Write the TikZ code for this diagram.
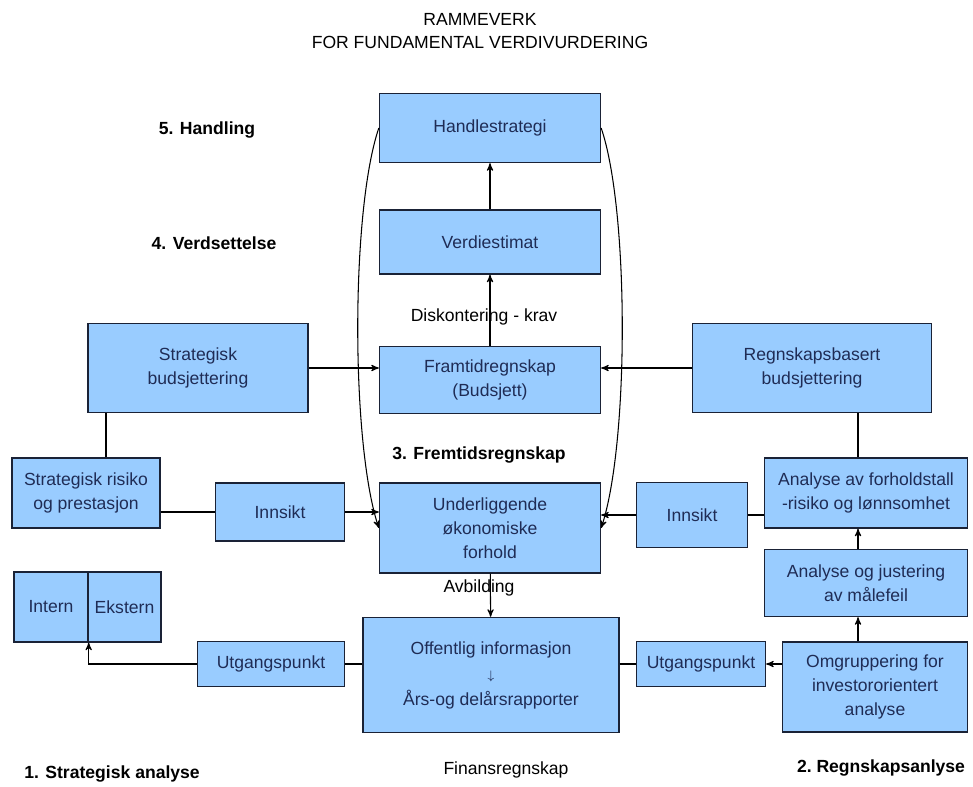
\documentclass[tikz,border=0pt]{standalone}
\usepackage{fontspec}
\setmainfont{Liberation Sans}
\usetikzlibrary{shapes,arrows,positioning,calc}

\definecolor{boxblue}{HTML}{99CCFF}
\definecolor{boxline}{HTML}{1A2236}
\definecolor{boxtext}{HTML}{1F2C55}

\begin{document}
\begin{tikzpicture}[x=0.02cm, y=-0.02cm, >=stealth', semithick,
    box/.style={draw=boxline, fill=boxblue, text=boxtext, align=center, inner sep=1pt, thick,
                font=\fontsize{10}{13.5}\selectfont},
    stage/.style={font=\bfseries\fontsize{10}{12}\selectfont},
    plain/.style={font=\fontsize{10}{13}\selectfont, align=center}]
        \useasboundingbox (0,0) rectangle (973,787);

        % tittel
        \node[plain] (title) at (480,31) {RAMMEVERK\\FOR FUNDAMENTAL VERDIVURDERING};

        % midtre kolonne
        \node[box, minimum width=4.42cm, minimum height=1.38cm] (Handle) at (490,128) {Handlestrategi};
        \node[box, minimum width=4.42cm, minimum height=1.28cm] (Verdi) at (490,242) {Verdiestimat};
        \node[box, minimum width=4.42cm, minimum height=1.34cm] (Framtid) at (490,380) {Framtidregnskap\\(Budsjett)};
        \node[box, minimum width=4.42cm, minimum height=1.80cm] (Underligg) at (490,528) {Underliggende\\økonomiske\\forhold};
        \node[box, minimum width=5.12cm, minimum height=2.30cm] (Offentlig) at (491,675)
            {Offentlig informasjon\\[1pt]{\scriptsize$\downarrow$}\\[1pt]Års-og delårsrapporter};

        % venstre side
        \node[box, minimum width=4.40cm, minimum height=1.78cm] (StratBud) at (198,368) {Strategisk\\budsjettering};
        \node[box, minimum width=2.96cm, minimum height=1.40cm] (StratRisk) at (86,493) {Strategisk risiko\\og prestasjon};
        \node[box, minimum width=2.58cm, minimum height=1.16cm] (InnsiktV) at (280,512) {Innsikt};
        \node[box, minimum width=1.48cm, minimum height=1.40cm] (Intern) at (51,607) {Intern};
        \node[box, minimum width=1.46cm, minimum height=1.40cm] (Ekstern) at (124.5,607) {Ekstern};
        \node[box, minimum width=2.94cm, minimum height=0.90cm] (UtgangV) at (271,664) {Utgangspunkt};

        % høyre side
        \node[box, minimum width=4.78cm, minimum height=1.78cm] (RegnBud) at (812,368) {Regnskapsbasert\\budsjettering};
        \node[box, minimum width=4.06cm, minimum height=1.40cm] (Forhold) at (866,493) {Analyse av forholdstall\\-risiko og lønnsomhet};
        \node[box, minimum width=2.22cm, minimum height=1.30cm] (InnsiktH) at (692,515) {Innsikt};
        \node[box, minimum width=4.06cm, minimum height=1.34cm] (Justering) at (866,583) {Analyse og justering\\av målefeil};
        \node[box, minimum width=3.70cm, minimum height=1.80cm] (Omgrupp) at (875,687) {Omgruppering for\\investororientert\\analyse};
        \node[box, minimum width=2.58cm, minimum height=0.90cm] (UtgangH) at (701,664) {Utgangspunkt};

        % tekster
        \node[stage] (Handling) at (207,130) {5. Handling};
        \node[stage] (Verdsett) at (214,243) {4. Verdsettelse};
        \node[stage] (Fremtid) at (479,455) {3. Fremtidsregnskap};
        \node[stage] (StratAn) at (112,774) {1. Strategisk analyse};
        \node[stage] (RegnAn) at (881,768) {2.\ Regnskapsanlyse};
        \node[plain] (Diskont) at (484,317) {Diskontering - krav};
        \node[plain] (Avbild) at (479,588) {Avbilding};
        \node[plain] (Finans) at (506,770) {Finansregnskap};

        % piler
        \path[->] (Verdi) edge (Handle)
                  (Framtid) edge (Verdi)
                  (Underligg) edge (Offentlig);
        \draw[->] (StratBud.east) -- (StratBud.east -| Framtid.west);
        \draw[->] (RegnBud.west) -- (RegnBud.west -| Framtid.east);
        \draw (StratBud.south -| StratRisk.north) ++(20,0) coordinate (sbfoot) -- (sbfoot |- StratRisk.north);
        \draw (StratRisk.east |- InnsiktV.west) -- (InnsiktV.west);
        \draw[->] (InnsiktV.east) -- (InnsiktV.east -| Underligg.west);
        \draw (RegnBud.south) ++(46,0) coordinate (rbfoot) -- (rbfoot |- Forhold.north);
        \draw (Forhold.west |- InnsiktH.east) -- (InnsiktH.east);
        \draw[->] (InnsiktH.west) -- (InnsiktH.west -| Underligg.east);
        \draw[->] (rbfoot |- Justering.north) -- (rbfoot |- Forhold.south);
        \draw[->] (rbfoot |- Omgrupp.north) -- (rbfoot |- Justering.south);
        \draw[->] (Omgrupp.west |- UtgangH.east) -- (UtgangH.east);
        \draw (Offentlig.east |- UtgangH.west) -- (UtgangH.west);
        \draw (Offentlig.west |- UtgangV.east) -- (UtgangV.east);
        \draw[->] (UtgangV.west) -| (Intern.south east);

        % tilbakekobling
        \draw[->] (Handle.west) .. controls +(-28,82) and +(-28,-85) .. (Underligg.west);
        \draw[->] (Handle.east) .. controls +(28,82) and +(28,-85) .. (Underligg.east);
    \end{tikzpicture}
\end{document}
